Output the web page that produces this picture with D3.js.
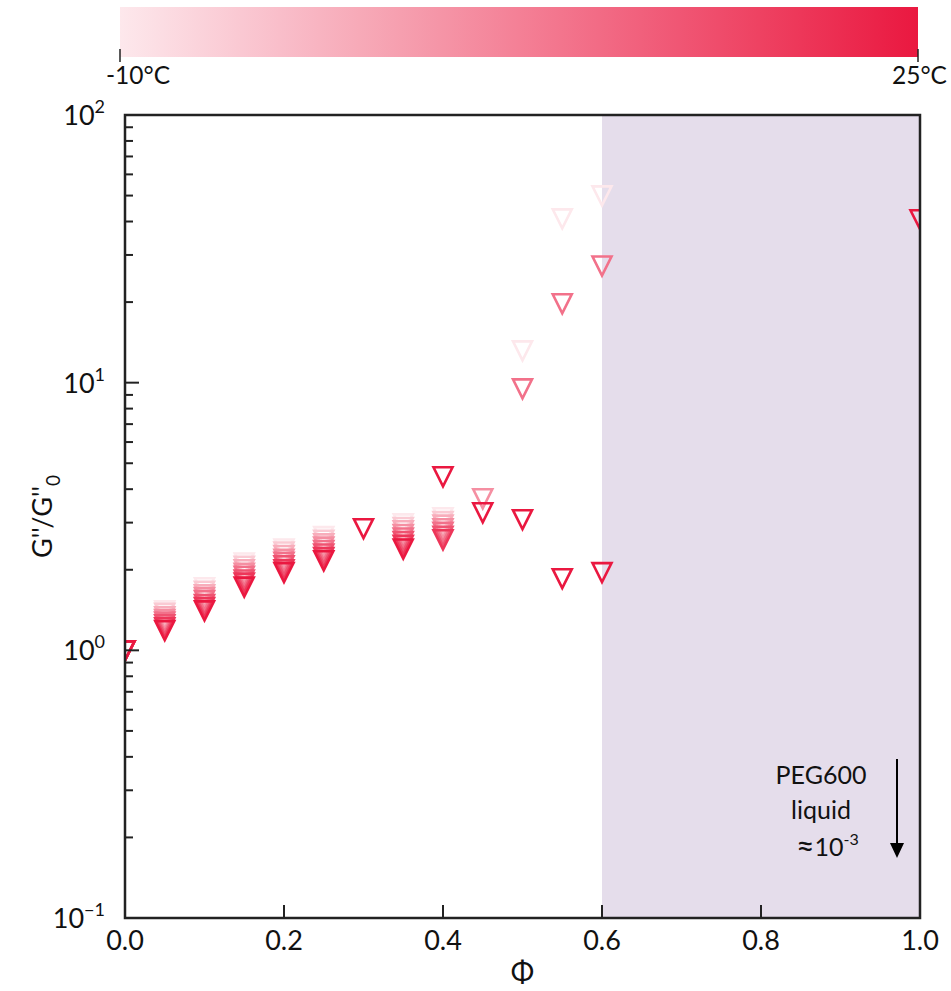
<!DOCTYPE html>
<html>
<head>
<meta charset="utf-8">
<script src="https://cdn.jsdelivr.net/npm/d3@7"></script>
<style>
  html, body { margin: 0; padding: 0; background: #fff; }
  svg { display: block; font-family: Lato, "Open Sans", sans-serif; }
</style>
</head>
<body>
<svg id="chart" width="951" height="991"></svg>
<script>
// ---- data ----
const phi = [0, 0.05, 0.10, 0.15, 0.20, 0.25, 0.30, 0.35, 0.40, 0.45, 0.50, 0.55, 0.60, 1.00];
const temps = [-10, -5, 0, 5, 10, 15, 20, 25];
const gM10 = [1, 1.41, 1.72, 2.13, 2.40, 2.67, null, 2.98, 3.14, null, 13.2, 41.1, 50.1, null];
const gM5  = [1, 1.38, 1.67, 2.07, 2.34, 2.59, null, 2.89, 3.04, null, null, null, null, null];
const g0   = [1, 1.34, 1.62, 2.01, 2.27, 2.51, null, 2.81, 2.95, null, null, null, null, null];
const g5   = [1, 1.31, 1.58, 1.95, 2.20, 2.44, null, 2.72, 2.86, 3.70, null, null, null, null];
const g10  = [1, 1.28, 1.54, 1.90, 2.14, 2.37, null, 2.64, 2.77, null, 9.52, 19.8, 27.4, null];
const g15  = [1, 1.25, 1.49, 1.84, 2.08, 2.30, null, 2.56, 2.68, null, null, null, null, null];
const g20  = [1, 1.22, 1.45, 1.79, 2.01, 2.23, null, 2.48, 2.60, null, null, null, null, null];
const g25  = [1, 1.19, 1.41, 1.73, 1.96, 2.17, 2.86, 2.40, 4.47, 3.28, 3.09, 1.86, 1.96, 40.8];
const seriesValues = [gM10, gM5, g0, g5, g10, g15, g20, g25];
const xTicks = [0, 0.2, 0.4, 0.6, 0.8, 1.0];
const xTickLabels = ["0.0", "0.2", "0.4", "0.6", "0.8", "1.0"];
const yExponents = [-1, 0, 1, 2];
const tempRange = [-10, 25];
const tempLabels = ["-10°C", "25°C"];
const shadeRange = [0.6, 1.0];
const annotationLines = ["PEG600", "liquid"];

// ---- layout ----
const svg = d3.select("#chart");
const L = 125, R = 920, T = 115, B = 918;
const x = d3.scaleLinear().domain([0, 1]).range([L, R]);
const y = d3.scaleLog().domain([0.1, 100]).range([B, T]);
const color = d3.scaleLinear().domain(tempRange).range(["#fde8ec", "#ea1840"]);
const axisColor = "#222";

const defs = svg.append("defs");
defs.append("clipPath").attr("id", "plotClip")
  .append("rect").attr("x", L).attr("y", T).attr("width", R - L).attr("height", B - T);

// ---- colorbar ----
const cbX = d3.scaleLinear().domain(tempRange).range([120, 918]);
const grad = defs.append("linearGradient").attr("id", "cbGrad")
  .attr("x1", "0%").attr("x2", "100%").attr("y1", "0%").attr("y2", "0%");
d3.range(0, 1.0001, 0.1).forEach(f => {
  const t = tempRange[0] + f * (tempRange[1] - tempRange[0]);
  grad.append("stop").attr("offset", (f * 100) + "%").attr("stop-color", color(t));
});
svg.append("rect").attr("x", cbX(tempRange[0])).attr("y", 7)
  .attr("width", cbX(tempRange[1]) - cbX(tempRange[0])).attr("height", 50)
  .attr("fill", "url(#cbGrad)");
tempRange.forEach((t, i) => {
  svg.append("line").attr("x1", cbX(t)).attr("x2", cbX(t)).attr("y1", 49).attr("y2", 62)
    .attr("stroke", axisColor).attr("stroke-width", 1.5);
  svg.append("text").attr("x", i === 0 ? cbX(t) - 14 : cbX(t) + 29)
    .attr("y", 84).attr("text-anchor", i === 0 ? "start" : "end")
    .attr("font-size", 24.5).attr("fill", "#111").text(tempLabels[i]);
});

// ---- shaded region ----
svg.append("rect").attr("x", x(shadeRange[0])).attr("y", T)
  .attr("width", x(shadeRange[1]) - x(shadeRange[0])).attr("height", B - T)
  .attr("fill", "#e5ddeb");

// ---- markers ----
function tri(cx, cy) {
  const hw = 9.5, top = 9, bot = 10;
  return `M${cx - hw},${cy - top}L${cx + hw},${cy - top}L${cx},${cy + bot}Z`;
}
const pts = [];
seriesValues.forEach((vals, si) => {
  vals.forEach((v, pi) => {
    if (v != null) pts.push({ t: temps[si], phi: phi[pi], v: v });
  });
});
svg.append("g").attr("clip-path", "url(#plotClip)")
  .selectAll("path").data(pts).join("path")
  .attr("d", d => tri(x(d.phi), y(d.v)))
  .attr("fill", "none")
  .attr("stroke", d => color(d.t))
  .attr("stroke-width", 2.6)
  .attr("stroke-linejoin", "miter");

// ---- axes frame ----
svg.append("rect").attr("x", L).attr("y", T).attr("width", R - L).attr("height", B - T)
  .attr("fill", "none").attr("stroke", axisColor).attr("stroke-width", 2.5);

// y ticks
const yMajor = yExponents.map(e => Math.pow(10, e));
const yMinor = [];
for (let e = -1; e < 2; e++) for (let m = 2; m <= 9; m++) yMinor.push(m * Math.pow(10, e));
svg.append("g").selectAll("line.mn").data(yMinor).join("line")
  .attr("x1", L).attr("x2", L + 8).attr("y1", d => y(d)).attr("y2", d => y(d))
  .attr("stroke", axisColor).attr("stroke-width", 2);
svg.append("g").selectAll("line.mj").data(yMajor).join("line")
  .attr("x1", L).attr("x2", L + 14).attr("y1", d => y(d)).attr("y2", d => y(d))
  .attr("stroke", axisColor).attr("stroke-width", 2);
const yl = svg.append("g").selectAll("text").data(yExponents).join("text")
  .attr("x", L - 20).attr("y", d => y(Math.pow(10, d)) + 10)
  .attr("text-anchor", "end").attr("font-size", 27).attr("fill", "#111");
yl.append("tspan").text("10");
yl.append("tspan").attr("dy", -12).attr("font-size", 18)
  .text(d => d < 0 ? "\u2212" + Math.abs(d) : String(d));

// x ticks
svg.append("g").selectAll("line").data(xTicks).join("line")
  .attr("x1", d => x(d)).attr("x2", d => x(d)).attr("y1", B).attr("y2", B - 13)
  .attr("stroke", axisColor).attr("stroke-width", 2);
svg.append("g").selectAll("text").data(xTicks).join("text")
  .attr("x", d => x(d)).attr("y", B + 32).attr("text-anchor", "middle")
  .attr("font-size", 27).attr("fill", "#111")
  .text((d, i) => xTickLabels[i]);

// axis labels
svg.append("text").attr("x", (L + R) / 2).attr("y", 982).attr("text-anchor", "middle")
  .attr("font-size", 28).attr("fill", "#111").text("Φ");
const ylab = svg.append("text").attr("transform", `translate(52,${(T + B) / 2}) rotate(-90)`)
  .attr("text-anchor", "middle").attr("font-size", 27).attr("fill", "#111");
ylab.append("tspan").text("G''/G''");
ylab.append("tspan").attr("dy", 8).attr("font-size", 19).text("0");

// annotation
annotationLines.forEach((s, i) => {
  svg.append("text").attr("x", 821).attr("y", 784 + i * 35).attr("text-anchor", "middle")
    .attr("font-size", 25).attr("fill", "#111").text(s);
});
const ann = svg.append("text").attr("x", 796).attr("y", 856).attr("text-anchor", "start")
  .attr("font-size", 25).attr("fill", "#111");
ann.append("tspan").attr("font-size", 32).attr("dy", 1).text("≈");
ann.append("tspan").attr("dy", -1).text("10");
ann.append("tspan").attr("dy", -11).attr("font-size", 16).text("-3");
svg.append("line").attr("x1", 897).attr("x2", 897).attr("y1", 759).attr("y2", 845)
  .attr("stroke", "#000").attr("stroke-width", 2);
svg.append("path").attr("d", `M${897 - 7},${843}L${897 + 7},${843}L${897},${858}Z`).attr("fill", "#000");
</script>
</body>
</html>
